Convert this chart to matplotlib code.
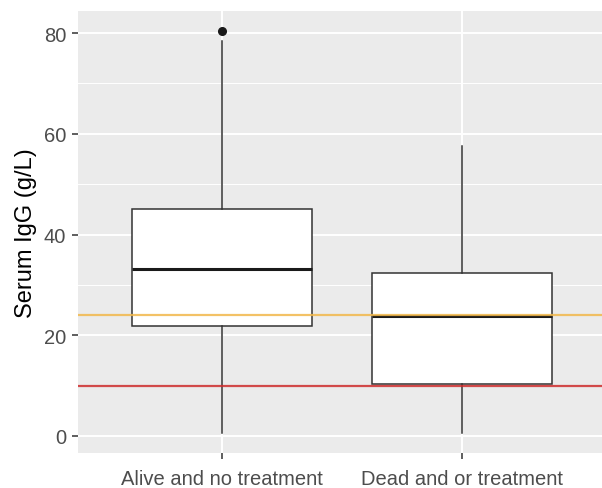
import matplotlib
matplotlib.use("Agg")
import matplotlib.pyplot as plt
from matplotlib.ticker import MultipleLocator

plt.rcParams['font.family'] = ['Liberation Sans', 'DejaVu Sans']

categories = ["Alive and no treatment", "Dead and or treatment"]
whisker_low = [0.6, 0.6]
q1 = [21.9, 10.4]
medians = [33.2, 23.8]
q3 = [45.1, 32.3]
whisker_high = [78.4, 57.5]
outliers = [[80.4], []]
ref_lines = [24.0, 10.0]
ref_colors = ["#F2B84B", "#CC2B2B"]
y_ticks = [0, 20, 40, 60, 80]
y_label = "Serum IgG (g/L)"

fig = plt.figure(figsize=(6.02, 4.89), dpi=100)
ax = fig.add_axes([78/602, 35/489, 524/602, 442/489])
ax.set_facecolor("#EBEBEB")
for s in ax.spines.values():
    s.set_visible(False)

positions = list(range(1, len(categories) + 1))
stats = []
for i, c in enumerate(categories):
    stats.append(dict(label=c, whislo=whisker_low[i], q1=q1[i], med=medians[i],
                      q3=q3[i], whishi=whisker_high[i], fliers=outliers[i]))

ax.bxp(stats, positions=positions, widths=0.75, patch_artist=True, showcaps=False,
       boxprops=dict(facecolor="white", edgecolor="#333333", linewidth=1.1),
       medianprops=dict(color="#1A1A1A", linewidth=2.2),
       whiskerprops=dict(color="#333333", linewidth=1.1),
       flierprops=dict(marker="o", markerfacecolor="#1A1A1A", markeredgecolor="#1A1A1A",
                       markersize=5.5),
       zorder=3)

for yv, col in zip(ref_lines, ref_colors):
    ax.axhline(yv, color=col, linewidth=1.6, alpha=0.85, zorder=4)

ax.set_xlim(0.4, 0.4 + 524/240)
ax.set_ylim(-3.4, 84.4)
ax.set_yticks(y_ticks)
ax.yaxis.set_minor_locator(MultipleLocator(10))
ax.set_xticks(positions)
ax.set_xticklabels(categories)

ax.grid(which="major", color="white", linewidth=1.4, zorder=0)
ax.grid(which="minor", axis="y", color="white", linewidth=0.7, zorder=0)
ax.set_axisbelow(True)

ax.tick_params(axis="both", which="major", length=4, width=1.1, color="#333333",
               labelcolor="#4D4D4D", labelsize=14.5)
ax.tick_params(axis="x", which="major", pad=7.5)
ax.tick_params(axis="y", which="major", pad=4.5)
ax.tick_params(axis="y", which="minor", length=0)
ax.set_ylabel(y_label, fontsize=17, color="black", labelpad=5)

fig.savefig("out.png", dpi=100, facecolor="white")
